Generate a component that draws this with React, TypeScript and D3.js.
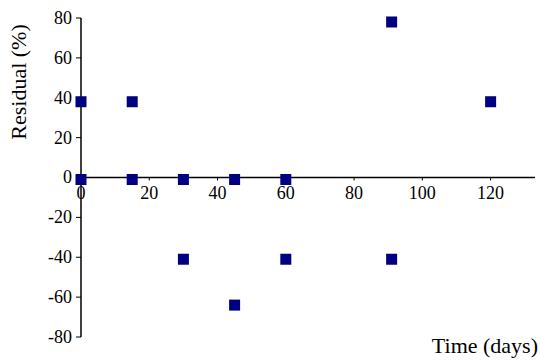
import React from "react";
import * as d3 from "d3";

const timeDays = [0, 0, 15, 15, 30, 30, 45, 45, 60, 60, 91, 91, 120];
const residualPct = [38, -1, 38, -1, -1, -41, -1, -64, -1, -41, 78, -41, 38];
const xTicks = [0, 20, 40, 60, 80, 100, 120];
const yTicks = [80, 60, 40, 20, 0, -20, -40, -60, -80];

export default function App() {
  const W = 540, H = 364;
  const x = d3.scaleLinear().domain([0, 133]).range([81, 535]);
  const y = d3.scaleLinear().domain([-80, 80]).range([337, 18]);
  const fs = { fontFamily: "Liberation Serif, Times New Roman, Times, serif" };
  const ms = 11;
  return (
    <svg width={W} height={H} style={{ position: "absolute", left: 0, top: 0 }}>
      <rect width={W} height={H} fill="#fff" />
      <line x1={x(0)} x2={x(0)} y1={y(80)} y2={y(-80)} stroke="#000" strokeWidth={1.5} />
      {yTicks.map((t) => (
        <g key={"y" + t}>
          <line x1={x(0) - 5} x2={x(0)} y1={y(t)} y2={y(t)} stroke="#000" strokeWidth={1} />
          <text x={x(0) - 9} y={y(t)} dy="0.33em" textAnchor="end" fontSize={18} fill="#000" style={fs}>
            {t}
          </text>
        </g>
      ))}
      <line x1={x(0)} x2={x(133)} y1={y(0)} y2={y(0)} stroke="#000" strokeWidth={1.5} />
      {xTicks.map((t) => (
        <g key={"x" + t}>
          <line x1={x(t)} x2={x(t)} y1={y(0)} y2={y(0) + 3} stroke="#000" strokeWidth={1} />
          <text x={x(t)} y={y(0) + 21} textAnchor="middle" fontSize={18} fill="#000" style={fs}>
            {t}
          </text>
        </g>
      ))}
      {timeDays.map((d, i) => (
        <rect
          key={i}
          x={x(d) - ms / 2}
          y={y(residualPct[i]) - ms / 2}
          width={ms}
          height={ms}
          fill="#000080"
        />
      ))}
      <text
        transform={`translate(26, 82) rotate(-90)`}
        textAnchor="middle"
        fontSize={22}
        fill="#000"
        style={fs}
      >
        Residual (%)
      </text>
      <text x={538} y={353} textAnchor="end" fontSize={22} fill="#000" style={fs}>
        Time (days)
      </text>
    </svg>
  );
}
